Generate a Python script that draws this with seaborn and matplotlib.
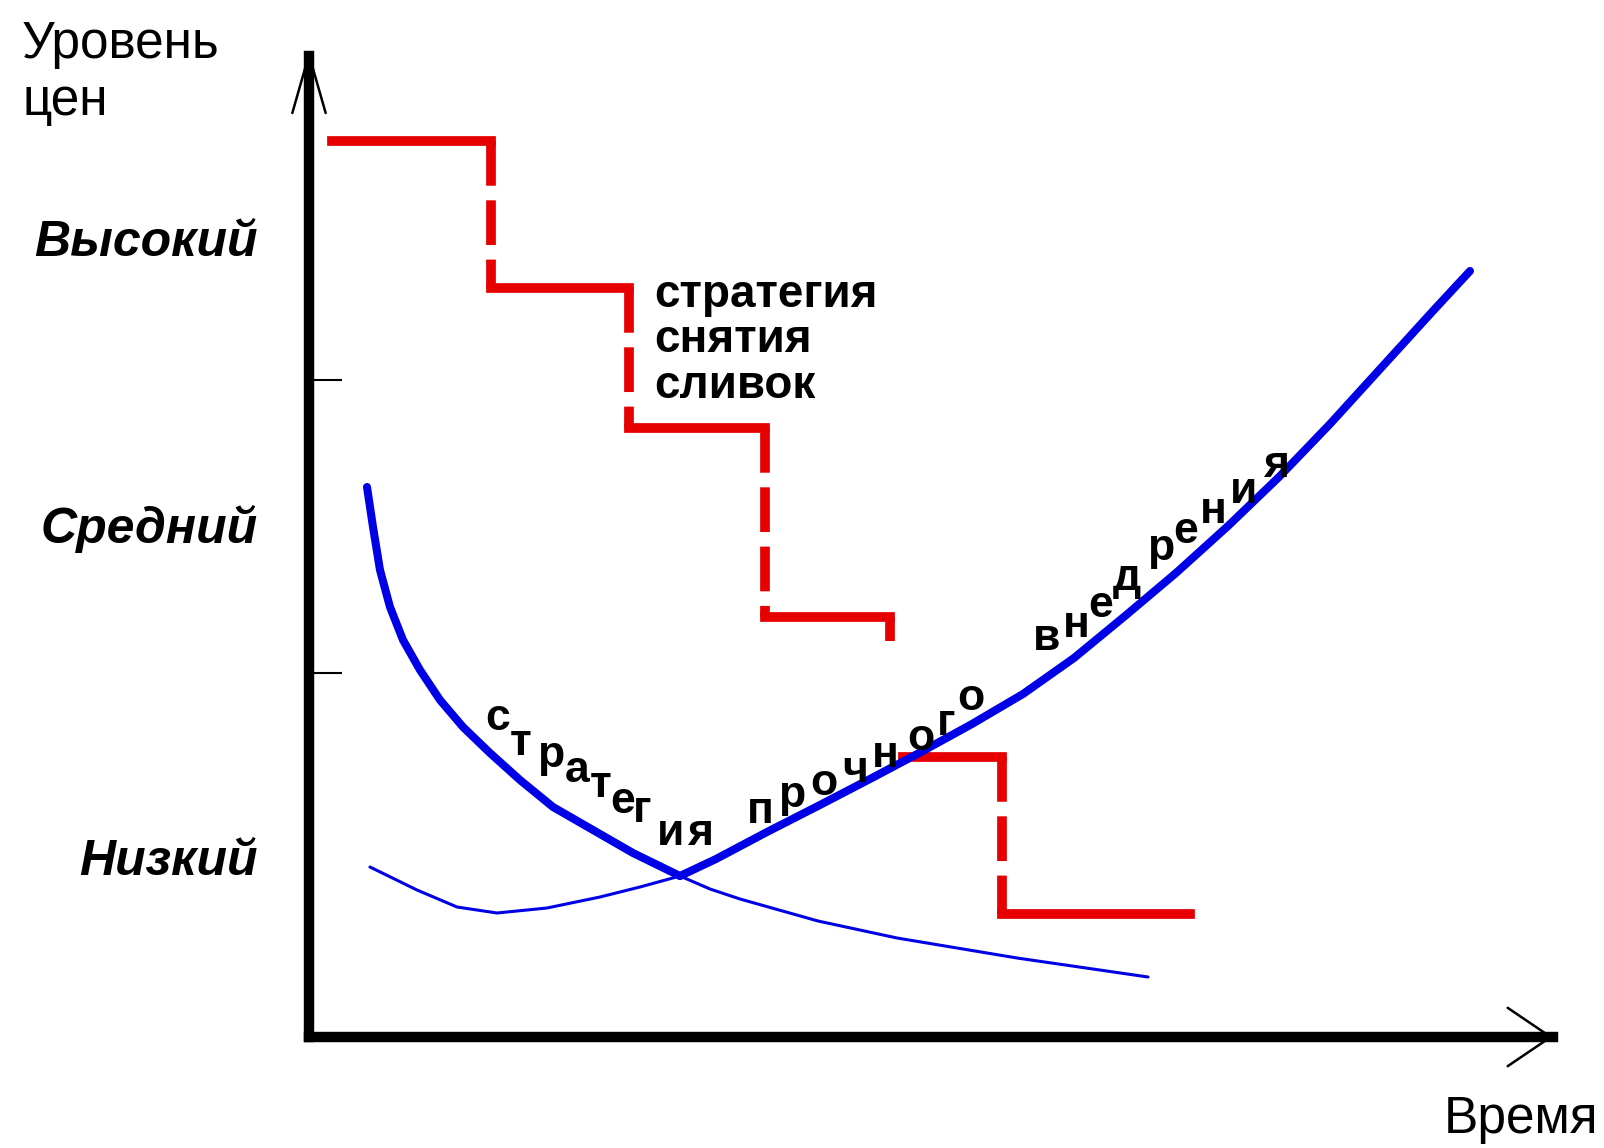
import matplotlib.pyplot as plt
import seaborn as sns

sns.set_theme(style='white')
plt.rcParams['font.family'] = ['Liberation Sans', 'DejaVu Sans']
plt.rcParams['text.color'] = 'black'

# --- data (x = time, y = price level, arbitrary units) ---

# price level names on the y axis and the two separator ticks
level_names = ['Высокий', 'Средний', 'Низкий']
level_pos = [7.99, 5.13, 1.80]
sep_ticks = [6.57, 3.64]

# skimming strategy: stepwise falling price
skim_x = [0.23, 1.82, 3.20, 4.56, 5.81, 5.81]
skim_y = [8.96, 7.49, 6.09, 4.20, 3.96]
# lower step after the curves cross
step2_x = [5.94, 6.93, 8.81]
step2_y = [2.80, 1.23]

# falling curve: thick part, then thin continuation
fall_x = [0.58, 0.64, 0.71, 0.81, 0.94, 1.11, 1.31, 1.54, 1.81, 2.11, 2.44, 2.84, 3.24, 3.71]
fall_y = [5.50, 5.10, 4.67, 4.30, 3.97, 3.67, 3.37, 3.10, 2.84, 2.57, 2.30, 2.07, 1.84, 1.61]
fall_thin_x = [3.71, 4.01, 4.31, 5.09, 5.88, 7.08, 8.39]
fall_thin_y = [1.61, 1.48, 1.38, 1.16, 0.99, 0.79, 0.60]

# rising curve: thin U-shaped start, then thick rise (penetration)
rise_thin_x = [0.61, 1.08, 1.48, 1.88, 2.38, 2.91, 3.31, 3.71]
rise_thin_y = [1.70, 1.47, 1.30, 1.24, 1.29, 1.40, 1.50, 1.61]
rise_x = [3.71, 4.07, 4.58, 5.09, 5.61, 6.12, 6.63, 7.14, 7.65, 8.16, 8.67,
          9.19, 9.70, 10.21, 10.72, 11.23, 11.61]
rise_y = [1.61, 1.78, 2.05, 2.31, 2.58, 2.85, 3.13, 3.43, 3.79, 4.21, 4.64,
          5.11, 5.60, 6.13, 6.69, 7.25, 7.66]

# text set along the curves (letter by letter)
path_text = 'стратегияпрочноговнедрения'
path_x = [1.76, 2.01, 2.28, 2.56, 2.81, 3.01, 3.24, 3.48, 3.78,
          4.38, 4.69, 5.01, 5.33, 5.63, 5.98, 6.28, 6.48,
          7.24, 7.54, 7.79, 8.04, 8.38, 8.64, 8.91, 9.21, 9.54]
path_y = [3.07, 2.82, 2.70, 2.55, 2.40, 2.24, 2.15, 1.92, 1.92,
          2.14, 2.30, 2.42, 2.55, 2.70, 2.87, 3.02, 3.27,
          3.87, 4.00, 4.20, 4.47, 4.77, 4.94, 5.14, 5.34, 5.60]

BLUE = '#0000e6'
RED = '#e60000'

fig = plt.figure(figsize=(16.04, 11.48), dpi=100)
ax = fig.add_axes([0.19264, 0.09669, 0.77556, 0.85453])
ax.set_xlim(0, 12.44)
ax.set_ylim(0, 9.81)

# red step lines: solid horizontals, dashed verticals
red_lw = 7
dash = (0, (4.6, 1.5))
for xs, ys in [(skim_x, skim_y), (step2_x, step2_y)]:
    n = len(ys)
    ax.hlines(ys, xs[:n], xs[1:n + 1], color=RED, lw=red_lw,
              capstyle='projecting', zorder=2)
    ax.vlines(xs[1:n], ys[:-1], ys[1:], color=RED, lw=red_lw,
              linestyles=[dash], zorder=2)

# blue curves
sns.lineplot(x=fall_x, y=fall_y, sort=False, estimator=None, color=BLUE, lw=5.8, ax=ax, zorder=3)
sns.lineplot(x=fall_thin_x, y=fall_thin_y, sort=False, estimator=None, color=BLUE, lw=2.2, ax=ax, zorder=3)
sns.lineplot(x=rise_thin_x, y=rise_thin_y, sort=False, estimator=None, color=BLUE, lw=2.2, ax=ax, zorder=3)
sns.lineplot(x=rise_x, y=rise_y, sort=False, estimator=None, color=BLUE, lw=5.8, ax=ax, zorder=3)

# labels of the strategies
ax.text(3.45, 6.39, 'стратегия\nснятия\nсливок', fontsize=33, fontweight='bold',
        color='black', ha='left', va='baseline', linespacing=1.05, zorder=4)
for ch, x, y in zip(path_text, path_x, path_y):
    ax.text(x, y, ch, fontsize=32, fontweight='bold', color='black',
            ha='left', va='baseline', zorder=4)

# axes: thick left/bottom spines with open arrowheads
for side in ['top', 'right']:
    ax.spines[side].set_visible(False)
for side in ['left', 'bottom']:
    ax.spines[side].set_linewidth(7.5)
    ax.spines[side].set_color('black')
ax.annotate('', xy=(0, 1.006), xytext=(0, 0.94), xycoords='axes fraction',
            arrowprops=dict(arrowstyle='->,head_length=0.42,head_width=0.12',
                            mutation_scale=100, lw=1.8, color='black',
                            shrinkA=0, shrinkB=0))
ax.annotate('', xy=(1.0, 0), xytext=(0.95, 0), xycoords='axes fraction',
            arrowprops=dict(arrowstyle='->,head_length=0.31,head_width=0.21',
                            mutation_scale=100, lw=1.8, color='black',
                            shrinkA=0, shrinkB=0))

ax.set_xticks([])
ax.set_yticks(sep_ticks, labels=[])
ax.set_yticks(level_pos, labels=level_names, minor=True)
ax.tick_params(axis='y', which='major', left=True, direction='in', length=24,
               width=1.5, color='black')
ax.tick_params(axis='y', which='minor', left=True, length=0, pad=37,
               labelsize=36, labelcolor='black')
for lbl in ax.get_yticklabels(minor=True):
    lbl.set_fontstyle('italic')
    lbl.set_fontweight('bold')

ax.set_ylabel('Уровень\nцен', rotation=0, ha='left', va='top', fontsize=37, color='black')
ax.yaxis.set_label_coords(-0.2307, 1.0367)
ax.set_xlabel('Время', ha='right', va='top', fontsize=37, color='black')
ax.xaxis.set_label_coords(1.0362, -0.0591)

fig.savefig('out.png', dpi=100)
